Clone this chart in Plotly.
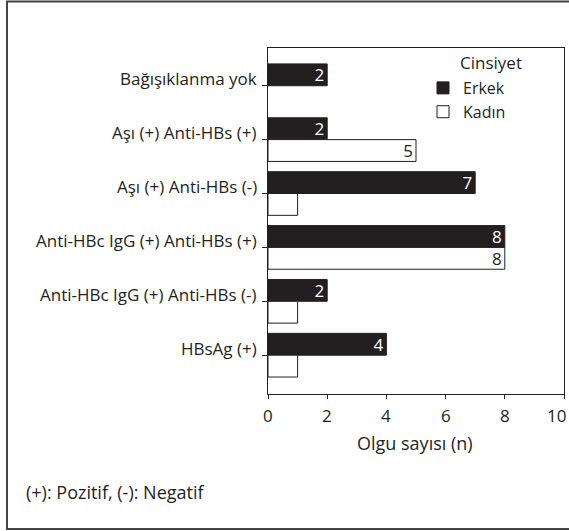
import plotly.graph_objects as go

# Data: case counts by serological status and sex
categories = [
    "Bağışıklanma yok",
    "Aşı (+) Anti-HBs (+)",
    "Aşı (+) Anti-HBs (-)",
    "Anti-HBc IgG (+) Anti-HBs (+)",
    "Anti-HBc IgG (+) Anti-HBs (-)",
    "HBsAg (+)",
]
erkek = [2, 2, 7, 8, 2, 4]
kadin = [None, 5, 1, 8, 1, 1]
erkek_labels = [str(v) for v in erkek]
kadin_labels = ["", "5", "", "8", "", ""]
x_ticks = [0, 2, 4, 6, 8, 10]
x_tick_labels = ["0", "2", "4", "6", "8", "10"]

W, H = 569, 531
L, R, T, B = 268, 5, 48, 137
PW, PH = W - L - R, H - T - B

def px_x(x):
    return (x - L) / PW

def px_y(y):
    return (H - B - y) / PH

FONT = "'Open Sans', Lato, sans-serif"
INK = "#231f20"

fig = go.Figure()
fig.add_trace(go.Bar(
    y=categories, x=erkek, name="Erkek", orientation="h",
    marker=dict(color=INK, line=dict(color=INK, width=1)),
    text=erkek_labels, textposition="inside", insidetextanchor="end",
    constraintext="none", textangle=0,
    textfont=dict(color="white", size=17, family=FONT),
))
fig.add_trace(go.Bar(
    y=categories, x=kadin, name="Kadın", orientation="h",
    marker=dict(color="white", line=dict(color=INK, width=1)),
    text=kadin_labels, textposition="inside", insidetextanchor="end",
    constraintext="none", textangle=0,
    textfont=dict(color=INK, size=17, family=FONT),
))

annotations = []
# category labels sit with their baseline on the tick
for c in categories:
    annotations.append(dict(
        x=0, xref="paper", y=c, yref="y", text=c, showarrow=False,
        xanchor="right", yanchor="middle", xshift=-9, yshift=7,
        font=dict(size=17, family=FONT, color=INK),
    ))
# x tick labels; the last one is kept inside the page edge
for i, (v, t) in enumerate(zip(x_ticks, x_tick_labels)):
    last = i == len(x_ticks) - 1
    annotations.append(dict(
        x=v, xref="x", y=px_y(415), yref="paper", text=t, showarrow=False,
        xanchor="right" if last else "center", xshift=4 if last else 0,
        yanchor="middle",
        font=dict(size=17, family=FONT, color=INK),
    ))
annotations.append(dict(
    x=px_x(458), xref="paper", y=px_y(63), yref="paper", text="Cinsiyet",
    showarrow=False, xanchor="left", yanchor="middle",
    font=dict(size=17, family=FONT, color=INK),
))
annotations.append(dict(
    x=px_x(415), xref="paper", y=px_y(443), yref="paper", text="Olgu sayısı (n)",
    showarrow=False, xanchor="center", yanchor="middle",
    font=dict(size=18, family=FONT, color=INK),
))
annotations.append(dict(
    x=px_x(24), xref="paper", y=px_y(492), yref="paper",
    text="(+): Pozitif, (-): Negatif", showarrow=False,
    xanchor="left", yanchor="middle",
    font=dict(size=18, family=FONT, color=INK),
))

fig.update_layout(
    width=W, height=H,
    margin=dict(l=L, r=R, t=T, b=B, autoexpand=False),
    paper_bgcolor="white", plot_bgcolor="white",
    barmode="group", bargap=0.19, bargroupgap=0,
    font=dict(family=FONT, color=INK),
    showlegend=True,
    legend=dict(
        x=px_x(423), y=px_y(71), xanchor="left", yanchor="top",
        bgcolor="rgba(0,0,0,0)", borderwidth=0,
        font=dict(size=16, family=FONT, color=INK),
        traceorder="normal", tracegroupgap=0,
    ),
    annotations=annotations,
    shapes=[dict(
        type="rect", xref="paper", yref="paper",
        x0=px_x(7), x1=px_x(575), y0=px_y(529), y1=px_y(1.5),
        line=dict(color="#444444", width=2), fillcolor="rgba(0,0,0,0)",
        layer="below",
    )],
)
fig.update_xaxes(
    range=[0, 10], tickvals=x_ticks, ticks="outside", ticklen=4,
    tickcolor=INK, showline=True, linecolor=INK, linewidth=1, mirror=True,
    showgrid=False, zeroline=False, showticklabels=False, automargin=False,
)
fig.update_yaxes(
    categoryorder="array", categoryarray=categories, automargin=False,
    range=[5.72, -0.70], ticks="outside", ticklen=5, tickcolor=INK,
    showticklabels=False, showline=True, linecolor=INK, linewidth=1,
    mirror=True, showgrid=False, zeroline=False,
)

fig.write_html("out.html")
